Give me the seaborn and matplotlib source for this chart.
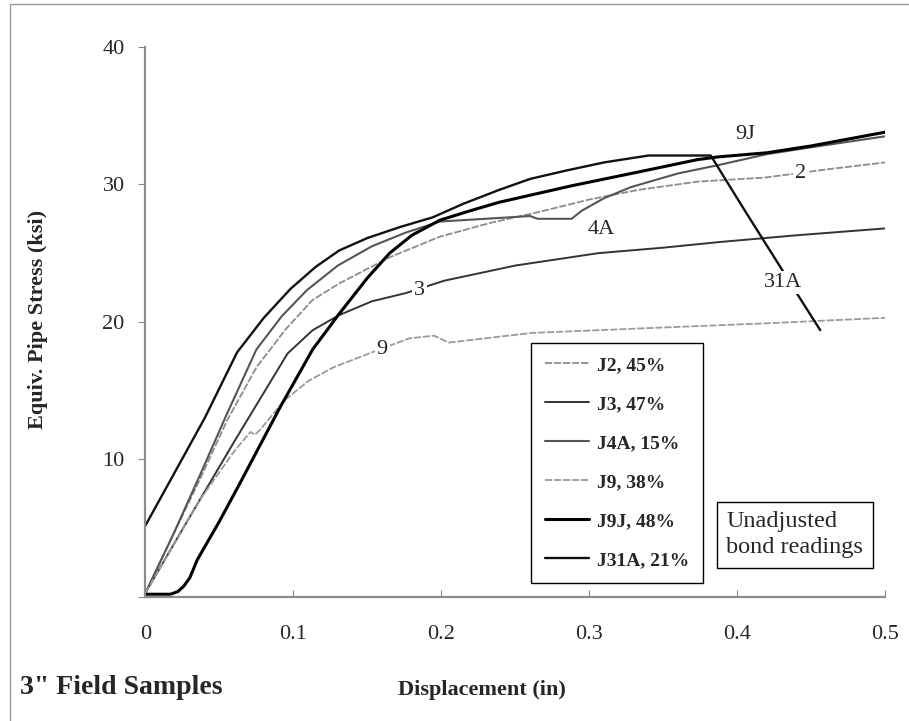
import pandas as pd
import matplotlib.pyplot as plt
import seaborn as sns
from matplotlib.lines import Line2D

# Displacement (in) / equiv. pipe stress (ksi)
j2_x = [0, 0.02, 0.037, 0.055, 0.075, 0.095, 0.113, 0.131, 0.165, 0.199, 0.233, 0.266, 0.3, 0.333, 0.373, 0.419, 0.461, 0.5]
j2_y = [0.3, 4.8, 8.6, 12.8, 16.7, 19.5, 21.6, 22.8, 24.7, 26.2, 27.2, 28.0, 28.9, 29.6, 30.2, 30.5, 31.1, 31.6]

j3_x = [0, 0.026, 0.06, 0.096, 0.113, 0.131, 0.153, 0.176, 0.202, 0.25, 0.306, 0.35, 0.387, 0.44, 0.5]
j3_y = [0.3, 5.1, 11.3, 17.7, 19.4, 20.5, 21.5, 22.1, 23.0, 24.1, 25.0, 25.4, 25.8, 26.3, 26.8]

j4a_x = [0, 0.019, 0.037, 0.055, 0.075, 0.092, 0.109, 0.13, 0.153, 0.176, 0.199, 0.23, 0.26, 0.265, 0.288, 0.295, 0.31, 0.328, 0.36, 0.387, 0.42, 0.45, 0.5]
j4a_y = [0.3, 4.6, 8.9, 13.3, 18.0, 20.4, 22.3, 24.1, 25.5, 26.5, 27.3, 27.5, 27.7, 27.5, 27.5, 28.1, 29.0, 29.8, 30.8, 31.4, 32.2, 32.7, 33.5]

j9_x = [0, 0.037, 0.06, 0.071, 0.074, 0.077, 0.094, 0.11, 0.127, 0.151, 0.178, 0.195, 0.205, 0.261, 0.351, 0.42, 0.5]
j9_y = [0.3, 7.1, 10.6, 12.0, 11.8, 12.1, 14.3, 15.7, 16.7, 17.7, 18.8, 19.0, 18.5, 19.2, 19.6, 19.9, 20.3]

j9j_x = [0, 0.017, 0.022, 0.026, 0.03, 0.035, 0.05, 0.064, 0.091, 0.113, 0.131, 0.15, 0.165, 0.18, 0.199, 0.22, 0.239, 0.288, 0.333, 0.373, 0.387, 0.42, 0.45, 0.5]
j9j_y = [0.2, 0.2, 0.4, 0.8, 1.4, 2.7, 5.5, 8.3, 13.8, 18.0, 20.6, 23.2, 25.0, 26.3, 27.4, 28.1, 28.7, 29.9, 30.9, 31.8, 32.0, 32.3, 32.8, 33.8]

j31a_x = [0, 0.02, 0.04, 0.062, 0.08, 0.098, 0.115, 0.131, 0.15, 0.172, 0.194, 0.215, 0.239, 0.26, 0.284, 0.31, 0.34, 0.382, 0.405, 0.429, 0.443, 0.456]
j31a_y = [5.2, 9.1, 13.0, 17.8, 20.3, 22.4, 24.0, 25.2, 26.1, 26.9, 27.6, 28.6, 29.6, 30.4, 31.0, 31.6, 32.1, 32.1, 28.1, 24.0, 21.6, 19.4]

series_names = ['J2, 45%', 'J3, 47%', 'J4A, 15%', 'J9, 38%', 'J9J, 48%', 'J31A, 21%']
series_data = [(j2_x, j2_y), (j3_x, j3_y), (j4a_x, j4a_y), (j9_x, j9_y), (j9j_x, j9j_y), (j31a_x, j31a_y)]

# curve tags written on the chart
tag_text = ['9', '3', '4A', '2', '9J', '31A']
tag_x = [0.160, 0.185, 0.308, 0.443, 0.405, 0.431]
tag_y = [18.0, 22.3, 26.7, 30.8, 33.6, 22.9]

x_ticks = [0, 0.1, 0.2, 0.3, 0.4, 0.5]
x_tick_labels = ['0', '0.1', '0.2', '0.3', '0.4', '0.5']
y_ticks = [0, 10, 20, 30, 40]
y_tick_labels = ['', '10', '20', '30', '40']

frames = []
for name, (xs, ys) in zip(series_names, series_data):
    frames.append(pd.DataFrame({'disp': xs, 'stress': ys, 'sample': name}))
df = pd.concat(frames, ignore_index=True)

line_style = {
    'J2, 45%': dict(color='#8c8c8c', lw=1.3, ls=(0, (4, 1))),
    'J3, 47%': dict(color='#333333', lw=1.4, ls='-'),
    'J4A, 15%': dict(color='#555555', lw=1.5, ls='-'),
    'J9, 38%': dict(color='#9a9a9a', lw=1.3, ls=(0, (4, 1))),
    'J9J, 48%': dict(color='black', lw=2.2, ls='-'),
    'J31A, 21%': dict(color='#111111', lw=1.7, ls='-'),
}

sns.set_style('ticks')
plt.rcParams['font.family'] = ['Liberation Serif', 'DejaVu Serif']

fig = plt.figure(figsize=(9.09, 7.21), dpi=100)
ax = fig.add_axes([0.16, 0.172, 0.814, 0.763])

for name in series_names:
    st = line_style[name]
    sns.lineplot(data=df[df['sample'] == name], x='disp', y='stress', sort=False,
                 estimator=None, color=st['color'], linewidth=st['lw'],
                 linestyle=st['ls'], ax=ax, legend=False)

for t, tx, ty in zip(tag_text, tag_x, tag_y):
    ax.text(tx, ty, t, fontsize=16, ha='center', va='center', zorder=5,
            bbox=dict(facecolor='white', edgecolor='none', pad=1.5))

ax.set_xlim(0, 0.5)
ax.set_ylim(0, 40)
ax.set_xticks(x_ticks)
ax.set_xticklabels(x_tick_labels)
ax.set_yticks(y_ticks)
ax.set_yticklabels(y_tick_labels)
ax.tick_params(axis='x', direction='in', length=5, pad=20, labelsize=16, color='#888888')
ax.tick_params(axis='y', direction='out', length=5, pad=10, labelsize=16, color='#888888')
sns.despine(ax=ax)
for side in ['left', 'bottom']:
    ax.spines[side].set_color('#8c8c8c')
    ax.spines[side].set_linewidth(1.6)

ax.set_xlabel('Displacement (in)', fontsize=16, fontweight='bold')
ax.set_ylabel('Equiv. Pipe Stress (ksi)', fontsize=16, fontweight='bold')
ax.xaxis.set_label_coords(0.455, -0.151)
ax.yaxis.set_label_coords(-0.132, 0.504)

handles = [Line2D([], [], color=line_style[n]['color'], lw=line_style[n]['lw'],
                  ls=line_style[n]['ls']) for n in series_names]
leg = ax.legend(handles, series_names, loc='upper left', bbox_to_anchor=(0.521, 0.462),
                borderaxespad=0, frameon=True, fancybox=False, framealpha=1,
                edgecolor='black', prop={'size': 14, 'weight': 'bold'},
                handlelength=2.3, handletextpad=0.4, borderpad=0.7, labelspacing=1.1)
leg.get_frame().set_linewidth(1.0)

ax.text(0.785, 0.113, 'Unadjusted\nbond readings', transform=ax.transAxes, fontsize=17.5,
        ha='left', va='center', linespacing=1.3, clip_on=False, zorder=6,
        bbox=dict(boxstyle='square,pad=0.4', facecolor='white', edgecolor='black', linewidth=1.0))

fig.text(0.022, 0.046, '3" Field Samples', fontsize=20, fontweight='bold', ha='left', va='center')

# thin scan border on left/top
fig.add_artist(Line2D([0.011, 0.011], [0.0, 0.995], transform=fig.transFigure, color='#999999', lw=1))
fig.add_artist(Line2D([0.011, 1.0], [0.995, 0.995], transform=fig.transFigure, color='#999999', lw=1))

fig.savefig('out.png', dpi=100, facecolor='white')
